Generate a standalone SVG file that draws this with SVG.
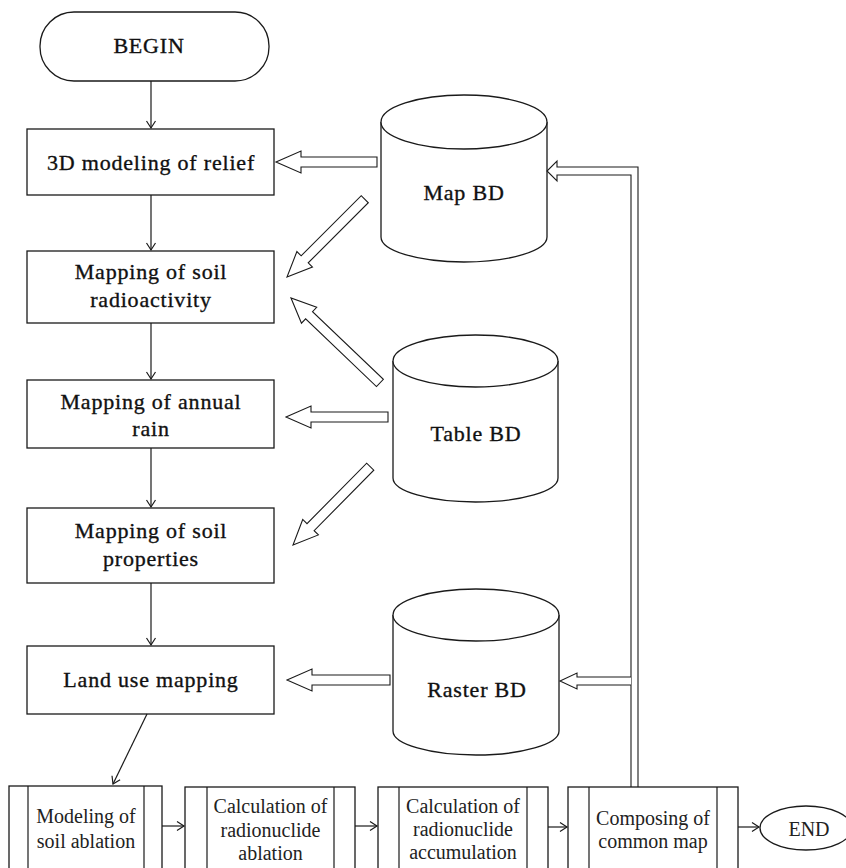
<svg xmlns="http://www.w3.org/2000/svg" width="846" height="868" viewBox="0 0 846 868">
  <defs>
    <style>
      .shape { fill: #ffffff; stroke: #1a1a1a; stroke-width: 1.3; }
      .line { fill: none; stroke: #1a1a1a; stroke-width: 1.2; }
      .block { fill: #ffffff; stroke: #1a1a1a; stroke-width: 1.1; stroke-linejoin: miter; }
      .bus { fill: none; stroke: #1a1a1a; stroke-width: 1.1; }
      text { font-family: 'Liberation Serif', 'Times New Roman', 'DejaVu Serif', serif; text-anchor: middle; }
      .t { font-size: 22px; letter-spacing: 0.8px; fill: #111; stroke: #111; stroke-width: 0.35px; }
      .s { font-size: 20px; fill: #222; }
    </style>
    <marker id="tip" viewBox="-9 -6 11 12" markerWidth="11" markerHeight="12" refX="0" refY="0" orient="auto" markerUnits="userSpaceOnUse">
      <path d="M -7,-4.5 L 0,0 L -7,4.5" fill="none" stroke="#1a1a1a" stroke-width="1.2"/>
    </marker>
  </defs>

  <rect width="846" height="868" fill="#ffffff"/>

  <!-- flow column -->
  <g id="begin">
    <rect class="shape" x="40" y="12" width="229" height="69" rx="34" ry="34"/>
    <text class="t" x="149" y="53">BEGIN</text>
  </g>
  <g id="relief">
    <rect class="shape" x="27" y="129" width="247" height="66"/>
    <text class="t" x="151" y="170">3D modeling of relief</text>
  </g>
  <g id="radioactivity">
    <rect class="shape" x="27" y="251" width="247" height="72"/>
    <text class="t" x="151" y="279">Mapping of soil</text>
    <text class="t" x="151" y="307">radioactivity</text>
  </g>
  <g id="rain">
    <rect class="shape" x="27" y="380" width="247" height="68"/>
    <text class="t" x="151" y="409">Mapping of annual</text>
    <text class="t" x="151" y="436">rain</text>
  </g>
  <g id="properties">
    <rect class="shape" x="27" y="508" width="247" height="75"/>
    <text class="t" x="151" y="538">Mapping of soil</text>
    <text class="t" x="151" y="566">properties</text>
  </g>
  <g id="landuse">
    <rect class="shape" x="27" y="646" width="247" height="68"/>
    <text class="t" x="151" y="687">Land use mapping</text>
  </g>

  <!-- databases -->
  <g id="mapbd">
    <path class="shape" d="M 381,122 V 237 A 83 25 0 0 0 547,237 V 122"/>
    <ellipse class="shape" cx="464" cy="122" rx="83" ry="27"/>
    <text class="t" x="464" y="200">Map BD</text>
  </g>
  <g id="tablebd">
    <path class="shape" d="M 393,361 V 478 A 82.5 24 0 0 0 558,478 V 361"/>
    <ellipse class="shape" cx="475.5" cy="361" rx="82.5" ry="26"/>
    <text class="t" x="476" y="441">Table BD</text>
  </g>
  <g id="rasterbd">
    <path class="shape" d="M 393,615 V 731 A 83 24 0 0 0 559,731 V 615"/>
    <ellipse class="shape" cx="476" cy="615" rx="83" ry="26"/>
    <text class="t" x="477" y="697">Raster BD</text>
  </g>

  <!-- processing row -->
  <g id="ablation">
    <rect class="shape" x="9" y="786" width="153" height="90"/>
    <line class="line" x1="28" y1="786" x2="28" y2="876"/>
    <line class="line" x1="144" y1="786" x2="144" y2="876"/>
    <text class="s" x="86" y="823">Modeling of</text>
    <text class="s" x="86" y="848">soil ablation</text>
  </g>
  <g id="nuclide-ablation">
    <rect class="shape" x="185" y="787" width="170" height="90"/>
    <line class="line" x1="207" y1="787" x2="207" y2="877"/>
    <line class="line" x1="334" y1="787" x2="334" y2="877"/>
    <text class="s" x="270.5" y="813">Calculation of</text>
    <text class="s" x="270.5" y="837">radionuclide</text>
    <text class="s" x="270.5" y="860">ablation</text>
  </g>
  <g id="nuclide-accumulation">
    <rect class="shape" x="378" y="787" width="170" height="90"/>
    <line class="line" x1="399" y1="787" x2="399" y2="877"/>
    <line class="line" x1="527" y1="787" x2="527" y2="877"/>
    <text class="s" x="463" y="813">Calculation of</text>
    <text class="s" x="463" y="836">radionuclide</text>
    <text class="s" x="463" y="859">accumulation</text>
  </g>
  <g id="common-map">
    <rect class="shape" x="568" y="787" width="170" height="90"/>
    <line class="line" x1="589" y1="787" x2="589" y2="877"/>
    <line class="line" x1="717" y1="787" x2="717" y2="877"/>
    <text class="s" x="653" y="825">Composing of</text>
    <text class="s" x="653" y="848">common map</text>
  </g>
  <g id="end">
    <ellipse class="shape" cx="806" cy="828" rx="46" ry="22"/>
    <text class="s" x="809" y="836">END</text>
  </g>

  <!-- connectors -->
  <g id="connectors">
    <line class="line" x1="151" y1="81" x2="151" y2="128" marker-end="url(#tip)"/>
    <line class="line" x1="151" y1="195" x2="151" y2="250" marker-end="url(#tip)"/>
    <line class="line" x1="151" y1="323" x2="151" y2="379" marker-end="url(#tip)"/>
    <line class="line" x1="151" y1="448" x2="151" y2="507" marker-end="url(#tip)"/>
    <line class="line" x1="151" y1="583" x2="151" y2="645" marker-end="url(#tip)"/>
    <line class="line" x1="147" y1="714" x2="113" y2="784" marker-end="url(#tip)"/>
    <line class="line" x1="162" y1="826" x2="184" y2="826" marker-end="url(#tip)"/>
    <line class="line" x1="355" y1="826" x2="377" y2="826" marker-end="url(#tip)"/>
    <line class="line" x1="548" y1="827" x2="567" y2="827" marker-end="url(#tip)"/>
    <line class="line" x1="738" y1="827" x2="759" y2="827" marker-end="url(#tip)"/>

    <!-- hollow data-flow arrows -->
    <polygon class="block" points="0,0 -25,-11 -25,-5 -101,-5 -101,5 -25,5 -25,11" transform="translate(276,162) rotate(180)"/>
    <polygon class="block" points="0,0 -25,-11 -25,-5 -110,-5 -110,5 -25,5 -25,11" transform="translate(287,277) rotate(135)"/>
    <polygon class="block" points="0,0 -25,-11 -25,-5 -123,-5 -123,5 -25,5 -25,11" transform="translate(291,298) rotate(-136.3)"/>
    <polygon class="block" points="0,0 -25,-11 -25,-5 -102,-5 -102,5 -25,5 -25,11" transform="translate(286,417) rotate(180)"/>
    <polygon class="block" points="0,0 -25,-11 -25,-5 -110,-5 -110,5 -25,5 -25,11" transform="translate(293,545) rotate(134.6)"/>
    <polygon class="block" points="0,0 -25,-11 -25,-5 -103,-5 -103,5 -25,5 -25,11" transform="translate(287,680) rotate(180)"/>

    <!-- feedback from composed map to databases -->
    <path class="bus" d="M 638,787 V 167 H 557 V 161 L 547,171 L 557,181 V 175 H 631 V 787"/>
    <path class="block" d="M 631,677 H 577 V 673 L 560,681 L 577,689 V 685 H 631"/>
  </g>
</svg>
